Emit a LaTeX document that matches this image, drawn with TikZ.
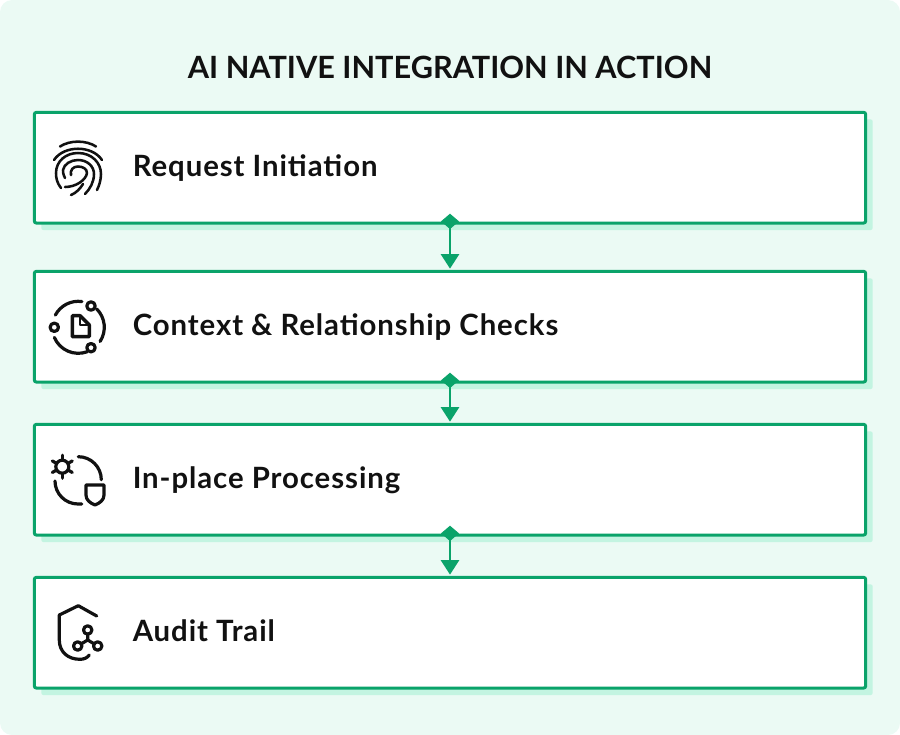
\documentclass[tikz,border=0pt]{standalone}
\usepackage{fontspec}
\setmainfont{Lato}
\usepackage{xcolor}
\usetikzlibrary{arrows.meta,shadows}
\definecolor{pagemint}{HTML}{EBFAF4}
\definecolor{shademint}{HTML}{C3F4E1}
\definecolor{edgegreen}{HTML}{0AA36A}
\definecolor{inkblack}{HTML}{111111}
\tikzset{
  stagebox/.style={draw=edgegreen,line width=2.25pt,fill=white,rounded corners=1.5pt,minimum width=623.5pt,minimum height=83pt,outer sep=0pt,inner sep=0pt,
    drop shadow={shadow xshift=5.25pt,shadow yshift=-5.25pt,fill=shademint,opacity=1}},
  stagelabel/.style={anchor=base west,inner sep=0pt,text=inkblack,font=\fontsize{22}{26}\selectfont\bfseries\addfontfeatures{LetterSpace=3.2}},
  flowarrow/.style={draw=edgegreen,line width=2.2pt,shorten <=-7pt,shorten >=2pt,
    {Diamond[width=13.5pt,length=11.5pt,fill=edgegreen]}-{Triangle[width=13.5pt,length=11pt,fill=edgegreen]}},
  iconline/.style={draw=inkblack,line width=2.4pt,line cap=round,line join=round},
  printline/.style={iconline,line width=1.9pt},
}
\begin{document}
\begin{tikzpicture}[x=0.75pt,y=0.75pt,yscale=-1,xscale=1]
\useasboundingbox (0,0) rectangle (900,735);
%Page
\fill [pagemint,rounded corners=9pt] (0,0) rectangle (900,735);

% Text Node
\node (title) [inner sep=0pt,text=inkblack,font=\fontsize{23}{27}\selectfont\bfseries] at (450,67) {AI NATIVE INTEGRATION IN ACTION};

%Boxes
\node (request) [stagebox] at (450,167.7) {};
\node (context) [stagebox] at (450,326.7) {};
\node (inplace) [stagebox] at (450,479.7) {};
\node (audit) [stagebox] at (450,632.7) {};

%Arrows
\draw [flowarrow] (request.south) -- (context.north);
\draw [flowarrow] (context.south) -- (inplace.north);
\draw [flowarrow] (inplace.south) -- (audit.north);

% Text Node
\node (requestlabel) [stagelabel] at (132.5,176.5) {Request Initiation};
\node (contextlabel) [stagelabel] at (132.5,335.5) {Context \& Relationship Checks};
\node (inplacelabel) [stagelabel] at (132.5,488.5) {In-place Processing};
\node (auditlabel) [stagelabel] at (132.5,641.5) {Audit Trail};

%Fingerprint
\draw [printline] (60,146.5) .. controls (70,140) and (86,140) .. (96,146.5);
\draw [printline] (54,160) .. controls (64,145) and (92,145) .. (102,160);
\draw [printline] (61,188) .. controls (57,183) and (56,178) .. (56,173) .. controls (56,161) and (66,153) .. (78,153) .. controls (92,153) and (101,163) .. (101,174) .. controls (101,180) and (99,186) .. (97,190);
\draw [printline] (65,178) .. controls (63,174) and (63,172) .. (63,170) .. controls (64,164) and (71,160) .. (78,160) .. controls (87,160) and (94,166) .. (94,174) .. controls (94,182) and (90,189) .. (85,194);
\draw [printline] (65,187) .. controls (76,187) and (86,180) .. (87,173) .. controls (87,169) and (83,166.5) .. (78,166.5) .. controls (73,166.5) and (70,170) .. (71,175);
\draw [printline] (71,195) .. controls (76,193) and (80,189) .. (83,184);

%Document cycle
\draw [iconline] (54.3,327.3) circle [radius=4.2];
\draw [iconline] (91,306) circle [radius=4.2];
\draw [iconline] (91,347.7) circle [radius=4.2];
\draw [iconline] (78.3,327.3) ++(-82:26) arc [start angle=-82,end angle=-152,radius=26];
\draw [iconline] (78.3,327.3) ++(-45:26) arc [start angle=-45,end angle=33,radius=26];
\draw [iconline] (78.3,327.3) ++(70:26) arc [start angle=70,end angle=157,radius=26];
\draw [iconline,line cap=butt,line width=2.6pt] (80,315.7) -- (72.3,315.7) -- (72.3,336.7) -- (89.3,336.7) -- (89.3,325) -- cycle;
\draw [iconline,line width=1.5pt] (80,315.7) -- (80,325) -- (89.3,325);

%Gear and shield
\draw [iconline] (62.3,466.7) circle [radius=6.5];
\foreach \a in {30,90,150,210,270,330}
  \draw [iconline] (62.3,466.7) ++(\a:7) -- ++(\a:4.5);
\draw [iconline] (78.3,456.7) arc [start angle=-90,end angle=0,radius=23];
\draw [iconline] (55,481) arc [start angle=180,end angle=90,radius=23] -- (81.7,504);
\draw [iconline] (86,485) -- (104,485) -- (104,495) .. controls (104,500) and (100,503) .. (95,505) .. controls (90,503) and (86,500) .. (86,495) -- cycle;

%Shield and hub
\draw [iconline] (96.7,616) -- (78.3,605.7) -- (59.3,615) -- (59.3,640) .. controls (59.3,652) and (68,659.3) .. (80,659.3) .. controls (84,659.3) and (87,658) .. (89.3,655);
\draw [iconline] (87.7,630) circle [radius=4.2];
\draw [iconline] (77.7,646) circle [radius=4.2];
\draw [iconline] (97.7,646) circle [radius=4.2];
\draw [iconline] (87.7,634) -- (87.7,640) -- (81,644);
\draw [iconline] (87.7,640) -- (94.4,644);
\end{tikzpicture}
\end{document}
